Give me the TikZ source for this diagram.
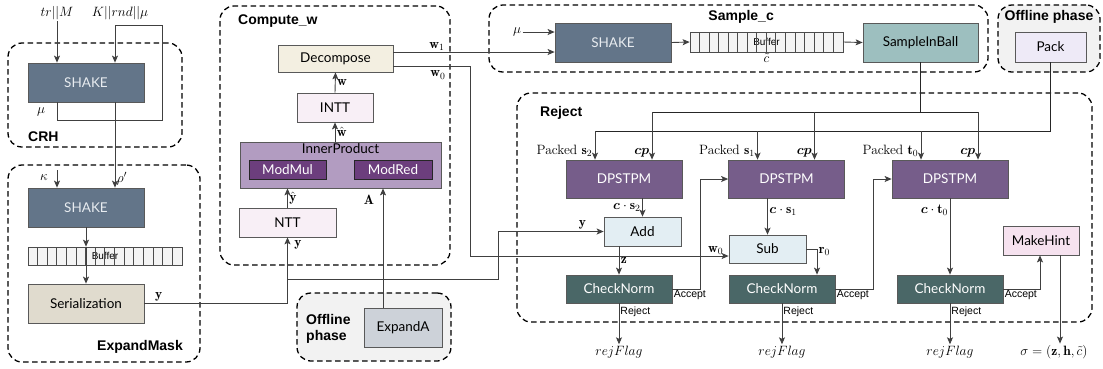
\RequirePackage{fix-cm}
\documentclass[tikz,border=0pt]{standalone}
\usepackage{xcolor}
\usepackage{amssymb}
\usepackage{bm}
\usepackage{fontspec}
\setsansfont{Liberation Sans}
\newfontfamily\blockfont{Lato}
\usepackage{tikz}
\usetikzlibrary{shapes,arrows.meta,positioning,fit,backgrounds}
\definecolor{shakeslate}{RGB}{99, 117, 137}
\definecolor{shaketext}{RGB}{232, 236, 240}
\definecolor{serialbeige}{RGB}{224, 219, 206}
\definecolor{decompcream}{RGB}{243, 239, 225}
\definecolor{nttpink}{RGB}{248, 239, 246}
\definecolor{innerlilac}{RGB}{178, 156, 193}
\definecolor{modpurple}{RGB}{108, 62, 125}
\definecolor{expandgray}{RGB}{205, 210, 217}
\definecolor{offgray}{RGB}{242, 242, 242}
\definecolor{dpspurple}{RGB}{118, 93, 138}
\definecolor{arithblue}{RGB}{227, 238, 243}
\definecolor{normteal}{RGB}{74, 103, 103}
\definecolor{sibteal}{RGB}{157, 191, 191}
\definecolor{packlav}{RGB}{238, 234, 247}
\definecolor{hintpink}{RGB}{246, 226, 239}
\definecolor{bufgray}{RGB}{244, 244, 244}

\tikzset{
    block/.style={draw=black!65, line width=0.7pt, inner sep=0pt, align=center,
        font=\blockfont\fontsize{13.5}{16}\selectfont},
    shakebox/.style={block, fill=shakeslate, text=shaketext, minimum width=116pt, minimum height=39pt},
    dpsbox/.style={block, fill=dpspurple, text=white, minimum width=116pt, minimum height=38pt},
    normbox/.style={block, fill=normteal, text=white, minimum width=106pt, minimum height=28pt},
    arithbox/.style={block, fill=arithblue, minimum width=77pt, minimum height=29pt},
    modbox/.style={block, fill=modpurple, text=white, draw=black!85, minimum width=77pt, minimum height=19pt},
    bufbox/.style={draw=black!70, line width=0.6pt, fill=bufgray, inner sep=0pt,
        font=\sffamily\fontsize{10}{12}\selectfont},
    cell/.style={draw=black!70, line width=0.6pt},
    region/.style={draw=black, line width=1.3pt, dash pattern=on 5.5pt off 3.5pt,
        rounded corners=14pt, inner sep=0pt},
    regiontitle/.style={font=\sffamily\bfseries\fontsize{14}{16}\selectfont, inner sep=0pt},
    flow/.style={draw=black!75, line width=0.9pt, -{Stealth[length=7pt,width=6pt,inset=1.5pt]}},
    wire/.style={draw=black!85, line width=0.9pt},
    mlabel/.style={font=\fontsize{13.5}{15}\selectfont, inner sep=1.5pt},
    tag/.style={font=\sffamily\fontsize{10.5}{12}\selectfont, inner sep=1pt},
}

\begin{document}
\begin{tikzpicture}[x=1pt,y=-1pt]
\useasboundingbox (0,0) rectangle (1103,368);

% dashed groups
\node[region, fit={(8,43) (182,147)}] (crh) {};
\node[region, fit={(8,165) (200,362)}] (expMask) {};
\node[region, fit={(220,6) (450,265)}] (computeW) {};
\node[region, fill=offgray, fit={(297,293) (451,361)}] (offlineA) {};
\node[region, fit={(489,5) (988,72)}] (sampleC) {};
\node[region, fill=offgray, fit={(998,5) (1100,72)}] (offlineB) {};
\node[region, fit={(517,93) (1092,322)}] (reject) {};

\node[regiontitle, anchor=west] (crhTitle) at (28,137) {CRH};
\node[regiontitle, anchor=east] (expTitle) at (183,347) {ExpandMask};
\node[regiontitle, anchor=west] (cwTitle) at (238,21) {Compute\_w};
\node[regiontitle, anchor=west, align=left] (offATitle) at (306,329) {Offline\\phase};
\node[regiontitle, anchor=east] (scTitle) at (774,17) {Sample\_c};
\node[regiontitle] (offBTitle) at (1049,17) {Offline phase};
\node[regiontitle, anchor=west] (rejTitle) at (540,113) {Reject};

% CRH and ExpandMask
\node[shakebox] (shakeCrh) at (86,82.5) {SHAKE};
\node[shakebox] (shakeMask) at (86,207.5) {SHAKE};
\node[bufbox, minimum width=154pt, minimum height=18pt] (bufMask) at (105,256) {Buffer};
\foreach \k in {1,...,15}
    \draw[cell] ([xshift=\k*9.625pt]bufMask.south west) -- ([xshift=\k*9.625pt]bufMask.north west);
\node[block, fill=serialbeige, minimum width=116pt, minimum height=39pt] (serial) at (86,303.5) {Serialization};

% Compute_w
\node[block, fill=decompcream, minimum width=115pt, minimum height=27pt] (decomp) at (335.5,58.5) {Decompose};
\node[block, fill=nttpink, minimum width=76pt, minimum height=29pt] (intt) at (335,107.5) {INTT};
\node[block, fill=innerlilac, minimum width=201pt, minimum height=46pt] (inner) at (340.5,165) {};
\node[anchor=north, inner sep=2pt, font=\blockfont\fontsize{13.5}{16}\selectfont] (innerTxt) at (inner.north) {InnerProduct};
\node[modbox] (modmul) at (287.5,169.5) {ModMul};
\node[modbox, minimum width=78pt] (modred) at (393,169.5) {ModRed};
\node[block, fill=nttpink, minimum width=97pt, minimum height=29pt] (ntt) at (287.5,222.5) {NTT};
\node[block, fill=expandgray, minimum width=78pt, minimum height=39pt] (expA) at (403,327.5) {ExpandA};

% Sample_c
\node[shakebox] (shakeSc) at (613,42.5) {SHAKE};
\node[bufbox, minimum width=153pt, minimum height=20pt] (bufSc) at (766.5,42) {Buffer};
\foreach \k in {1,...,15}
    \draw[cell] ([xshift=\k*9.5625pt]bufSc.south west) -- ([xshift=\k*9.5625pt]bufSc.north west);
\node[mlabel, below=0pt of bufSc] (ctil) {$\tilde{c}$};
\node[block, fill=sibteal, minimum width=115pt, minimum height=39pt] (sib) at (920.5,42.5) {SampleInBall};
\node[block, fill=packlav, minimum width=71pt, minimum height=30pt] (pack) at (1050.5,47) {Pack};

% Reject
\node[dpsbox] (dp1) at (624,179) {DPSTPM};
\node[dpsbox] (dp2) at (786.5,179) {DPSTPM};
\node[dpsbox] (dp3) at (950,179) {DPSTPM};
\node[arithbox] (add) at (642.5,231.5) {Add};
\node[arithbox, minimum height=28pt] (sub) at (767.5,249) {Sub};
\node[normbox] (cn1) at (619,289) {CheckNorm};
\node[normbox] (cn2) at (782,289) {CheckNorm};
\node[normbox] (cn3) at (950,289) {CheckNorm};
\node[block, fill=hintpink, minimum width=76pt, minimum height=29pt] (mhint) at (1041,240.5) {MakeHint};

% inputs and outputs
\node[mlabel] (trM) at (57,13) {$tr||M$};
\node[mlabel] (krm) at (120,13) {$K||rnd||\mu$};
\node[mlabel] (muCrh) at (41,112) {$\mu$};
\node[mlabel] (kappa) at (44,178) {$\kappa$};
\coordinate (kappaIn) at (57,170);
\node[mlabel] (muSc) at (517,32) {$\mu$};
\node[mlabel] (rej1) at (619,352) {$rejFlag$};
\node[mlabel] (rej2) at (782,352) {$rejFlag$};
\node[mlabel] (rej3) at (950,352) {$rejFlag$};
\node[mlabel] (sigma) at (1054,352) {$\sigma=(\mathbf{z},\mathbf{h},\tilde{c})$};

% CRH feedback and seeds
\draw[flow] (trM.south) -- (trM.south |- shakeCrh.north);
\draw[flow] ([xshift=-29pt]shakeCrh.south) |- (162,120) |- (115,25) -- ([xshift=29pt]shakeCrh.north);
\draw[flow] ([xshift=29pt]shakeCrh.south) -- node[mlabel, right, pos=0.9] (rho) {$\rho'$} ([xshift=29pt]shakeMask.north);
\draw[flow] (kappaIn) -- ([xshift=-29pt]shakeMask.north);
\draw[flow] (shakeMask.south) -- (shakeMask.south |- bufMask.north);
\draw[flow] (shakeMask.south |- bufMask.north) -- (serial.north);

% y to NTT and Add
\draw[flow] (serial.east) -| node[mlabel, above, pos=0.05] (ySer) {$\mathbf{y}$} (ntt.south);
\coordinate (ySplit) at (287.5,279);
\draw[flow] (ySplit) -- (498,279) |- node[mlabel, above, pos=0.9] (yAdd) {$\mathbf{y}$} (add.west);
\node[mlabel] (yNtt) at (298,245) {$\mathbf{y}$};
\draw[flow] (ntt.north) -- node[mlabel, right] (yHat) {$\hat{\mathbf{y}}$} (ntt.north |- inner.south);
\draw[flow] ([xshift=-20pt]expA.north) -- ([xshift=-20pt]expA.north |- inner.south);
\node[mlabel] (matA) at (369,200) {$\mathbf{A}$};
\draw[flow] (intt.south |- inner.north) -- node[mlabel, right] (wHat) {$\hat{\mathbf{w}}$} (intt.south);
\draw[flow] (intt.north) -- node[mlabel, right] (wLbl) {$\mathbf{w}$} (decomp.south);

% Decompose outputs
\draw[flow] ([yshift=6.5pt]decomp.east) -- node[mlabel, above, pos=0.27] (w1) {$\mathbf{w}_1$} ([yshift=6.5pt]decomp.east -| shakeSc.west);
\coordinate (w0Bend) at (470,256);
\draw[flow] ([yshift=-7.5pt]decomp.east) -| (w0Bend) -- node[mlabel, above, pos=0.95] (w0Sub) {$\mathbf{w}_0$} ([yshift=-7pt]sub.west);
\node[mlabel] (w0) at (438,75) {$\mathbf{w}_0$};

% Sample_c chain
\draw[flow] (muSc.east) -- (muSc.east -| shakeSc.west);
\draw[flow] (shakeSc.east) -- (bufSc.west);
\draw[flow] (bufSc.east) -- (sib.west);

% cp and packed key buses
\coordinate (cpBus) at (920.5,112);
\coordinate (packBus) at (1050.5,131);
\draw[wire, line width=1.3pt] (sib.south) -- (cpBus);
\draw[wire] ([xshift=28pt]dp1.north |- cpBus) -- ([xshift=28pt]dp3.north |- cpBus);
\draw[wire] (pack.south) -- (packBus) -- ([xshift=-29pt]dp1.north |- packBus);
\foreach \d/\key in {dp1/{\mathbf{s}_2}, dp2/{\mathbf{s}_1}, dp3/{\mathbf{t}_0}} {
    \draw[flow] ([xshift=28pt]\d.north |- cpBus) -- ([xshift=28pt]\d.north);
    \draw[flow] ([xshift=-29pt]\d.north |- packBus) -- ([xshift=-29pt]\d.north);
    \node[mlabel, anchor=base east] (pk\d) at ([xshift=-30pt,yshift=5pt]\d.north) {Packed $\key$};
    \node[mlabel, anchor=base east] (cp\d) at ([xshift=27pt,yshift=5pt]\d.north) {$\bm{cp}$};
}

% products into the checks
\draw[flow] (add.north |- dp1.south) -- node[mlabel, left] (cs2) {$\bm{c}\cdot\mathbf{s}_2$} (add.north);
\draw[flow] (sub.north |- dp2.south) -- node[mlabel, right, pos=0.35] (cs1) {$\bm{c}\cdot\mathbf{s}_1$} (sub.north);
\draw[flow] (dp3.south) -- node[mlabel, left, pos=0.15] (ct0) {$\bm{c}\cdot\mathbf{t}_0$} (cn3.north);
\draw[flow] (add.south -| cn1.north) -- node[mlabel, right] (zLbl) {$\mathbf{z}$} (cn1.north);
\draw[flow] (sub.east) -| node[mlabel, right, pos=0.55] (r0) {$\mathbf{r}_0$} ([xshift=35pt]cn2.north);

% accept / reject
\draw[flow] (cn1.east) -- node[tag, anchor=north west, pos=0] (acc1) {Accept} ++(28,0) |- (dp2.west);
\draw[flow] (cn2.east) -- node[tag, anchor=north west, pos=0] (acc2) {Accept} ++(38,0) |- (dp3.west);
\draw[flow] (cn3.east) -| node[tag, anchor=north west, pos=0] (acc3) {Accept} ([xshift=-1pt]mhint.south);
\draw[flow] (cn1.south) -- node[tag, anchor=north west, pos=0, yshift=-2pt] (rj1) {Reject} (rej1.north);
\draw[flow] (cn2.south) -- node[tag, anchor=north west, pos=0, yshift=-2pt] (rj2) {Reject} (rej2.north);
\draw[flow] (cn3.south) -- node[tag, anchor=north west, pos=0, yshift=-2pt] (rj3) {Reject} (rej3.north);
\draw[flow] ([xshift=19pt]mhint.south) -- ([xshift=19pt]mhint.south |- sigma.north);
\end{tikzpicture}
\end{document}
